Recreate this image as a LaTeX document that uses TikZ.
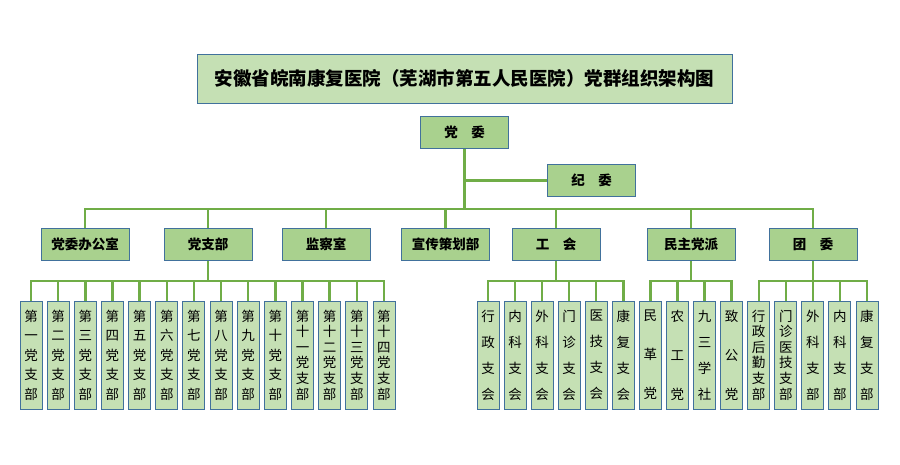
\documentclass[tikz,border=0pt]{standalone}
\usepackage{fontspec}
\newfontfamily\cjk{Noto Sans CJK SC}
\usetikzlibrary{backgrounds}
\definecolor{boxline}{HTML}{41719C}
\definecolor{darkfill}{HTML}{A9D18E}
\definecolor{lightfill}{HTML}{C5E0B4}
\definecolor{linkgreen}{HTML}{70AD47}
\tikzset{
  unit/.style={draw=boxline,line width=0.9pt,fill=darkfill,minimum width=88pt,
    minimum height=32pt,inner sep=0pt,font=\cjk\bfseries\fontsize{13.5}{16}\selectfont},
  leaf/.style={draw=boxline,line width=0.9pt,fill=lightfill,minimum width=22pt,
    minimum height=108pt,inner sep=0pt,align=center},
  leafiii/.style={leaf,font=\cjk\fontsize{13.5}{39}\selectfont},
  leafiv/.style={leaf,font=\cjk\fontsize{13.5}{26}\selectfont},
  leafv/.style={leaf,font=\cjk\fontsize{13.5}{19.5}\selectfont},
  leafvi/.style={leaf,font=\cjk\fontsize{13.5}{15.6}\selectfont},
  link/.style={draw=linkgreen,line width=2.4pt,line cap=rect}
}
\begin{document}
\begin{tikzpicture}[x=1pt,y=-1pt]
  \useasboundingbox (0,0) rectangle (900,465);
  % title and top
  \node (title)[draw=boxline,line width=0.9pt,fill=lightfill,minimum width=535pt,minimum height=49pt,
    font=\cjk\bfseries\fontsize{18.5}{22}\selectfont] at (464.5,78.5)
    {安徽省皖南康复医院（芜湖市第五人民医院）党群组织架构图};
  \node (dw)[unit] at (464.5,132.5) {党\hspace{1em}委};
  \node (jw)[unit] at (591.5,180.5) {纪\hspace{1em}委};
  % second level
  \node (dbo)[unit] at (85,244) {党委办公室};
  \node (dzb)[unit] at (208,244) {党支部};
  \node (jcs)[unit] at (326,244) {监察室};
  \node (xcb)[unit] at (445.5,244) {宣传策划部};
  \node (gh)[unit] at (556,244) {工\hspace{1em}会};
  \node (mz)[unit] at (691,244) {民主党派};
  \node (tw)[unit] at (813,244) {团\hspace{1em}委};
  % branches
  \foreach \s/\t [count=\i] in {leafv/第\\一\\党\\支\\部,leafv/第\\二\\党\\支\\部,
      leafv/第\\三\\党\\支\\部,leafv/第\\四\\党\\支\\部,leafv/第\\五\\党\\支\\部,
      leafv/第\\六\\党\\支\\部,leafv/第\\七\\党\\支\\部,leafv/第\\八\\党\\支\\部,
      leafv/第\\九\\党\\支\\部,leafv/第\\十\\党\\支\\部,leafvi/第\\十\\一\\党\\支\\部,
      leafvi/第\\十\\二\\党\\支\\部,leafvi/第\\十\\三\\党\\支\\部,leafvi/第\\十\\四\\党\\支\\部}
    \node (z\i)[\s] at ({31+27.15*(\i-1)},355) {\t};
  \foreach \t [count=\i] in {行\\政\\支\\会,内\\科\\支\\会,外\\科\\支\\会,门\\诊\\支\\会,
      医\\技\\支\\会,康\\复\\支\\会}
    \node (g\i)[leafiv] at ({488+27.07*(\i-1)},355) {\t};
  \foreach \s/\t [count=\i] in {leafiii/民\\革\\党,leafiii/农\\工\\党,leafiv/九\\三\\学\\社,
      leafiii/致\\公\\党}
    \node (m\i)[\s] at ({650.4+27.07*(\i-1)},355) {\t};
  \foreach \s/\t [count=\i] in {leafvi/行\\政\\后\\勤\\支\\部,leafvi/门\\诊\\医\\技\\支\\部,
      leafiv/外\\科\\支\\部,leafiv/内\\科\\支\\部,leafiv/康\\复\\支\\部}
    \node (t\i)[\s] at ({758.7+27.07*(\i-1)},355) {\t};
  % connectors
  \begin{pgfonlayer}{background}
    \coordinate (bus) at (0,209);
    \coordinate (lowbus) at (0,281);
    \draw[link] (dw.south) -- (dw.south |- bus);
    \draw[link] (dw.south |- jw.west) -- (jw.west);
    \draw[link] (dbo.north |- bus) -- (tw.north |- bus);
    \foreach \n in {dbo,dzb,jcs,xcb,gh,mz,tw}
      \draw[link] (\n.north) -- (\n.north |- bus);
    \foreach \top/\first/\last in {dzb/z1/z14,gh/g1/g6,mz/m1/m4,tw/t1/t5} {
      \draw[link] (\top.south) -- (\top.south |- lowbus);
      \draw[link] (\first.north |- lowbus) -- (\last.north |- lowbus);
    }
    \foreach \n in {z1,z2,z3,z4,z5,z6,z7,z8,z9,z10,z11,z12,z13,z14,g1,g2,g3,g4,g5,g6,
        m1,m2,m3,m4,t1,t2,t3,t4,t5}
      \draw[link] (\n.north) -- (\n.north |- lowbus);
  \end{pgfonlayer}
\end{tikzpicture}
\end{document}
